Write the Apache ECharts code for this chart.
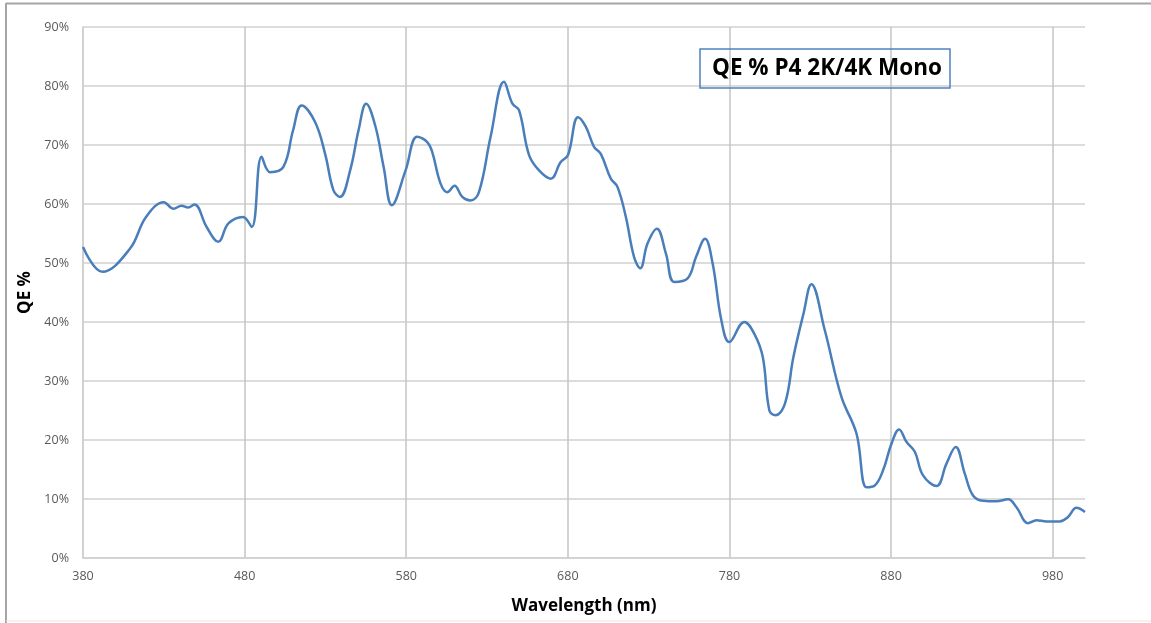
<!DOCTYPE html>
<html>
<head>
<meta charset="utf-8">
<script src="https://cdn.jsdelivr.net/npm/echarts@6/dist/echarts.min.js"></script>
<style>
  html, body { margin: 0; padding: 0; background: #fff; }
  #main { width: 1151px; height: 623px; }
</style>
</head>
<body>
<div id="main"></div>
<script>
// wavelength (nm) and QE (%)
var wavelengths = [380, 392, 409, 419, 430, 436, 441, 445, 449, 456.5, 463.7, 470, 479, 484.4, 490.5, 495.7, 504,
  510, 515.3, 523.6, 529.8, 535, 539, 545.3, 550.5, 555.2, 560.8, 566, 571.1, 579.6, 586.8, 593, 596.1, 601.2,
  605.4, 609.9, 614.7, 619.8, 625, 632.2, 640.5, 645.7, 649.8, 656, 662.2, 669.4, 675.6, 680.1, 686.3, 691.1,
  696.2, 700.4, 706.6, 710.7, 715.9, 721, 724.8, 729.3, 735.1, 740.7, 745.8, 754.1, 759.3, 764.9, 769.6, 775,
  779.9, 789.2, 795.4, 800.6, 804.7, 808.5, 814.4, 819.6, 825.8, 830.7, 839, 849.3, 858.6, 864.8, 869.9, 875.1,
  880.3, 885, 889.5, 894.7, 899.8, 908.1, 914.3, 920, 925.6, 930.7, 936.9, 945.2, 952.4, 957.6, 964.8, 970,
  976.2, 984.4, 989.5, 994.7, 1000];
var qeValues = [52.7, 48.5, 52.4, 57.8, 60.3, 59.2, 59.7, 59.4, 59.9, 56.1, 53.6, 56.7, 57.8, 56.1, 68.0, 65.4, 66.3,
  72.5, 76.7, 73.9, 68.5, 62.3, 61.2, 65.7, 72.5, 77.0, 73.3, 66.3, 59.8, 65.7, 71.4, 70.5, 68.8, 63.5,
  62.0, 63.1, 61.2, 60.6, 62.0, 71.4, 80.7, 77.0, 75.9, 68.3, 65.7, 64.3, 67.1, 68.3, 74.7, 73.1,
  69.7, 68.5, 64.3, 62.9, 57.8, 51.0, 49.1, 53.3, 55.8, 51.6, 46.8, 47.4, 51.0, 54.1, 49.9, 40.3,
  36.6, 40.0, 38.0, 34.1, 25.0, 24.2, 26.2, 34.1, 41.4, 46.4, 38.6, 27.3, 21.1, 12.0, 12.3, 14.9,
  19.4, 21.8, 19.7, 18.0, 14.0, 12.2, 16.0, 18.8, 14.3, 10.6, 9.7, 9.6, 9.95, 8.6, 5.9, 6.4,
  6.2, 6.2, 6.95, 8.5, 7.8];
var xTicks = [380, 480, 580, 680, 780, 880, 980];
var chartTitle = 'QE % P4 2K/4K Mono';

var seriesData = wavelengths.map(function (w, i) { return [w, qeValues[i]]; });

var chart = echarts.init(document.getElementById('main'), null, { renderer: 'canvas' });
var font = "'Open Sans', 'Liberation Sans', sans-serif";

var option = {
  animation: false,
  backgroundColor: '#fff',
  title: {
    text: chartTitle,
    left: 700,
    top: 49,
    padding: [8, 8, 8, 12],
    borderColor: '#4f81bd',
    borderWidth: 1.5,
    textStyle: { fontFamily: font, fontWeight: 'bold', fontSize: 22.5, color: '#000' }
  },
  graphic: [
    { type: 'line', shape: { x1: 6, y1: 3.5, x2: 1151, y2: 3.5 }, style: { stroke: '#a6a6a6', lineWidth: 2 } },
    { type: 'line', shape: { x1: 6, y1: 3, x2: 6, y2: 623 }, style: { stroke: '#a6a6a6', lineWidth: 2 } },
    { type: 'line', shape: { x1: 6, y1: 621, x2: 1151, y2: 621 }, style: { stroke: '#e6e6e6', lineWidth: 1 } }
  ],
  grid: { left: 83, top: 27, right: 66, bottom: 65, containLabel: false },
  xAxis: {
    type: 'value',
    min: 380,
    max: 1000,
    interval: 100,
    name: 'Wavelength (nm)',
    nameLocation: 'middle',
    nameGap: 40,
    nameTextStyle: { fontFamily: font, fontWeight: 'bold', fontSize: 17, color: '#000' },
    axisLine: { show: true, lineStyle: { color: '#d0d0d0', width: 1.5 } },
    axisTick: { show: false },
    axisLabel: {
      fontFamily: font, fontSize: 12.5, color: '#595959', margin: 12,
      customValues: xTicks
    },
    splitLine: { show: true, showMaxLine: false, lineStyle: { color: '#c4c4c4', width: 1.5 } }
  },
  yAxis: {
    type: 'value',
    min: 0,
    max: 90,
    interval: 10,
    name: 'QE %',
    nameLocation: 'middle',
    nameGap: 46,
    nameRotate: 90,
    nameTextStyle: { fontFamily: font, fontWeight: 'bold', fontSize: 17, color: '#000' },
    axisLine: { show: true, lineStyle: { color: '#d0d0d0', width: 1.5 } },
    axisTick: { show: false },
    axisLabel: {
      fontFamily: font, fontSize: 12.5, color: '#595959', margin: 14,
      formatter: '{value}%'
    },
    splitLine: { show: true, lineStyle: { color: '#d0d0d0', width: 1.5 } }
  },
  series: [{
    type: 'line',
    data: seriesData,
    smooth: 0.4,
    showSymbol: false,
    lineStyle: { color: '#4a7ebb', width: 2.5 }
  }]
};

chart.setOption(option);
</script>
</body>
</html>
